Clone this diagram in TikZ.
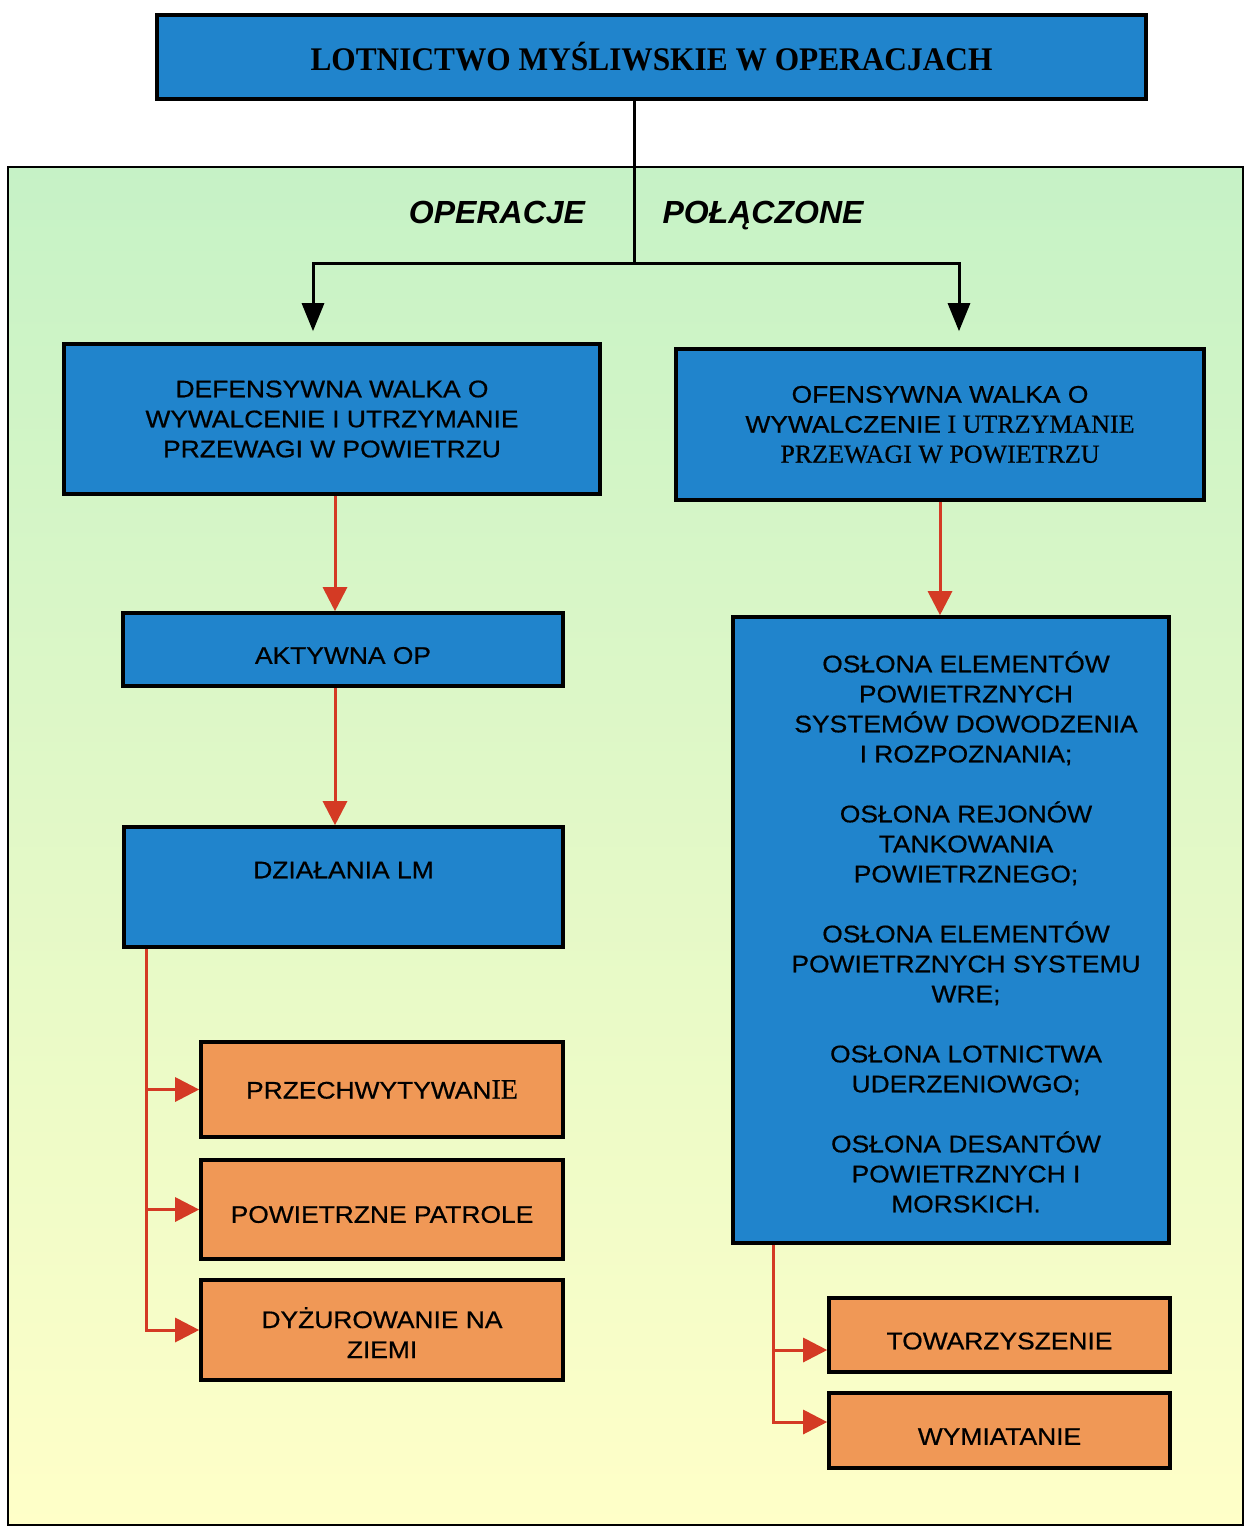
\documentclass[tikz,border=0pt]{standalone}
\usepackage{fontspec}
\setmainfont{Liberation Sans}
\newfontfamily\arialf[FakeStretch=1.1,FakeBold=0.6]{Liberation Sans}
\newfontfamily\serf[FakeBold=0.6]{Liberation Serif}
\newfontfamily\titlef[FakeStretch=0.95]{Liberation Serif}
\usetikzlibrary{arrows.meta,calc}
\definecolor{boxblue}{RGB}{32,132,204}
\definecolor{boxorange}{RGB}{240,152,86}
\definecolor{linered}{RGB}{212,58,36}
\definecolor{bggreen}{RGB}{198,242,198}
\definecolor{bgyellow}{RGB}{255,255,200}
\newcommand\lowertxt[2]{\raisebox{-#1}[\height][\depth]{#2}}
\begin{document}
\begin{tikzpicture}[x=0.5pt,y=-0.5pt,
  bluebox/.style={draw=black, line width=1.8pt, fill=boxblue, inner sep=0pt, align=center,
    font=\arialf\fontsize{12}{15}\selectfont},
  orangebox/.style={bluebox, fill=boxorange},
  blackarrow/.style={draw=black, line width=1.5pt, -{Triangle[length=14pt,width=11pt]}},
  redline/.style={draw=linered, line width=1.5pt},
  redarrow/.style={redline, -{Triangle[length=12pt,width=12pt]}},
  lbl/.style={font=\bfseries\itshape\fontsize{16}{18}\selectfont, anchor=base, inner sep=0pt},
  txt/.style={font=\arialf\fontsize{12}{15}\selectfont, align=center}
]
\fill[white] (0,0) rectangle (1246,1527);
\useasboundingbox (0,0) rectangle (1246,1527);
% panel
\shade[top color=bggreen, bottom color=bgyellow] (8,167) rectangle (1243,1525);
\draw[line width=1pt] (8,167) rectangle (1243,1525);

% nodes
\node[bluebox, minimum width=494.5pt, minimum height=42pt,
  font=\titlef\bfseries\fontsize{16.5}{18}\selectfont] (title) at (651.5,57) {LOTNICTWO MYŚLIWSKIE W OPERACJACH};

\node[lbl] (lop) at (497,223) {OPERACJE};
\node[lbl] (lpol) at (763,223) {POŁĄCZONE};

\node[bluebox, minimum width=268pt, minimum height=75pt] (def) at (332,419)
  {DEFENSYWNA WALKA O\\WYWALCENIE I UTRZYMANIE\\PRZEWAGI W POWIETRZU};
\node[bluebox, minimum width=264pt, minimum height=75.5pt] (ofe) at (940,424.5)
  {OFENSYWNA WALKA O\\WYWALCZENIE{\serf\fontsize{13}{15}\selectfont{} I UTRZYMANIE}\\{\serf\fontsize{13}{15}\selectfont PRZEWAGI W POWIETRZU}};

\node[bluebox, minimum width=220pt, minimum height=36.5pt] (akt) at (343,649.5) {\lowertxt{3pt}{AKTYWNA OP}};
\node[bluebox, minimum width=219.5pt, minimum height=60pt,
  label={[txt, yshift=8.5pt]center:DZIAŁANIA LM}] (dz) at (343.5,887) {};

\node[orangebox, minimum width=181pt, minimum height=47.5pt] (prz) at (382,1089.5)
  {PRZECHWYTYWAN{\serf\fontsize{14}{15}\selectfont IE}};
\node[orangebox, minimum width=181pt, minimum height=49.5pt] (pow) at (382,1209.5) {\lowertxt{2.5pt}{POWIETRZNE PATROLE}};
\node[orangebox, minimum width=181pt, minimum height=50pt] (dyz) at (382,1330)
  {\lowertxt{3.5pt}{\begin{tabular}{@{}c@{}}DYŻUROWANIE NA\\ZIEMI\end{tabular}}};

\node[bluebox, minimum width=218pt, minimum height=313pt] (big) at (951,930) {};
\node[txt] (bigtxt) at (966,932) {OSŁONA ELEMENTÓW\\POWIETRZNYCH\\SYSTEMÓW DOWODZENIA\\I ROZPOZNANIA;\\[15pt]
  OSŁONA REJONÓW\\TANKOWANIA\\POWIETRZNEGO;\\[15pt]
  OSŁONA ELEMENTÓW\\POWIETRZNYCH SYSTEMU\\WRE;\\[15pt]
  OSŁONA LOTNICTWA\\UDERZENIOWGO;\\[15pt]
  OSŁONA DESANTÓW\\POWIETRZNYCH I\\MORSKICH.};

\node[orangebox, minimum width=170.5pt, minimum height=37pt] (tow) at (999.5,1335) {\lowertxt{3pt}{TOWARZYSZENIE}};
\node[orangebox, minimum width=170.5pt, minimum height=37.5pt] (wym) at (999.5,1430.5) {\lowertxt{3pt}{WYMIATANIE}};

% connectors
\coordinate (hub) at (634,263);
\draw[line width=1.5pt] (634,0 |- title.south) -- (hub);
\draw[blackarrow, shorten >=5.5pt] (hub) -| (313,0 |- def.north);
\draw[blackarrow, shorten >=8pt] (hub) -| (959,0 |- ofe.north);

\draw[redarrow] (335,0 |- def.south) -- (335,0 |- akt.north);
\draw[redarrow] (335,0 |- akt.south) -- (335,0 |- dz.north);
\draw[redarrow] (ofe.south) -- (940,0 |- big.north);

\draw[redarrow] (146,0 |- dz.south) |- (dyz.west);
\draw[redarrow] (146,0 |- prz.west) -- (prz.west);
\draw[redarrow] (146,0 |- pow.west) -- (pow.west);

\draw[redarrow] (773,0 |- big.south) |- (wym.west |- 0,1422);
\draw[redarrow] (773,1350) -- (tow.west |- 0,1350);
\end{tikzpicture}
\end{document}
